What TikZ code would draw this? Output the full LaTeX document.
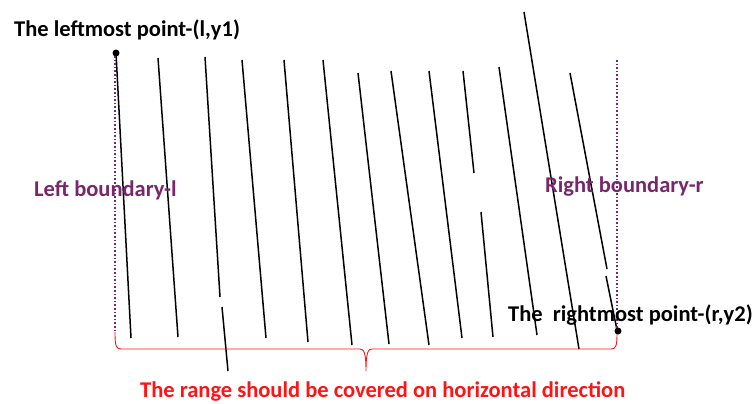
\documentclass[tikz,border=0pt]{standalone}
\usepackage{fontspec}
\setmainfont{Carlito}
\definecolor{bndpurple}{RGB}{122,38,108}
\definecolor{rangered}{RGB}{255,20,20}
\begin{document}
\begin{tikzpicture}[x=1pt,y=-1pt,
  seg/.style={black,line width=1.5pt},
  bound/.style={bndpurple,dotted,line width=1.6pt},
  dotmark/.style={circle,fill=black,inner sep=0pt,minimum size=7pt},
  lbl/.style={font=\bfseries\fontsize{22.5}{26}\selectfont,inner sep=0pt},
  brace/.style={rangered,line width=0.9pt}]
\useasboundingbox (0,0) rectangle (753,404);
% segments
\draw[seg] (116,53) -- (131,338);
\draw[seg] (158,58) -- (178,337);
\draw[seg] (205,57) -- (220,297);
\draw[seg] (222,307) -- (228,371);
\draw[seg] (242,60) -- (266,338);
\draw[seg] (284,60) -- (308,342);
\draw[seg] (323,60) -- (352,345);
\draw[seg] (358,73) -- (389,344);
\draw[seg] (391,71) -- (429,345);
\draw[seg] (429,71) -- (462,338);
\draw[seg] (463,71) -- (474,173);
\draw[seg] (481,212) -- (493,337);
\draw[seg] (499,67) -- (537,335);
\draw[seg] (524,12) -- (579,349);
\draw[seg] (570,73) -- (607,269);
\draw[seg] (606,276) -- (617,330);
% boundaries
\coordinate (lt) at (115,56);
\coordinate (lb) at (115,331);
\coordinate (rt) at (617,60);
\coordinate (rb) at (617,328);
\draw[bound] (lt) -- (lb);
\draw[bound] (rt) -- (rb);
% brace
\draw[brace] (115,332) .. controls (115,346) and (116,349) .. (121,349) -- (360,349)
  .. controls (364,349) and (366,353) .. (366,371)
  .. controls (366,353) and (368,349) .. (372,349) -- (611,349)
  .. controls (616,349) and (617,346) .. (617,333);
% points
\node[dotmark] (lp) at (116,53) {};
\node[dotmark] (rp) at (618,331) {};
% labels
\node[lbl,anchor=west] (lpt) at (14,30) {The leftmost point-(l,y1)};
\node[lbl,anchor=west,text=bndpurple] (lbt) at (34,190) {Left boundary-l};
\node[lbl,anchor=west,text=bndpurple] (rbt) at (545,187) {Right boundary-r};
\node[lbl,anchor=west] (rpt) at (508,315) {The\ \ rightmost point-(r,y2)};
\node[lbl,anchor=west,text=rangered] (rgt) at (140,391) {The range should be covered on horizontal direction};
\end{tikzpicture}
\end{document}
